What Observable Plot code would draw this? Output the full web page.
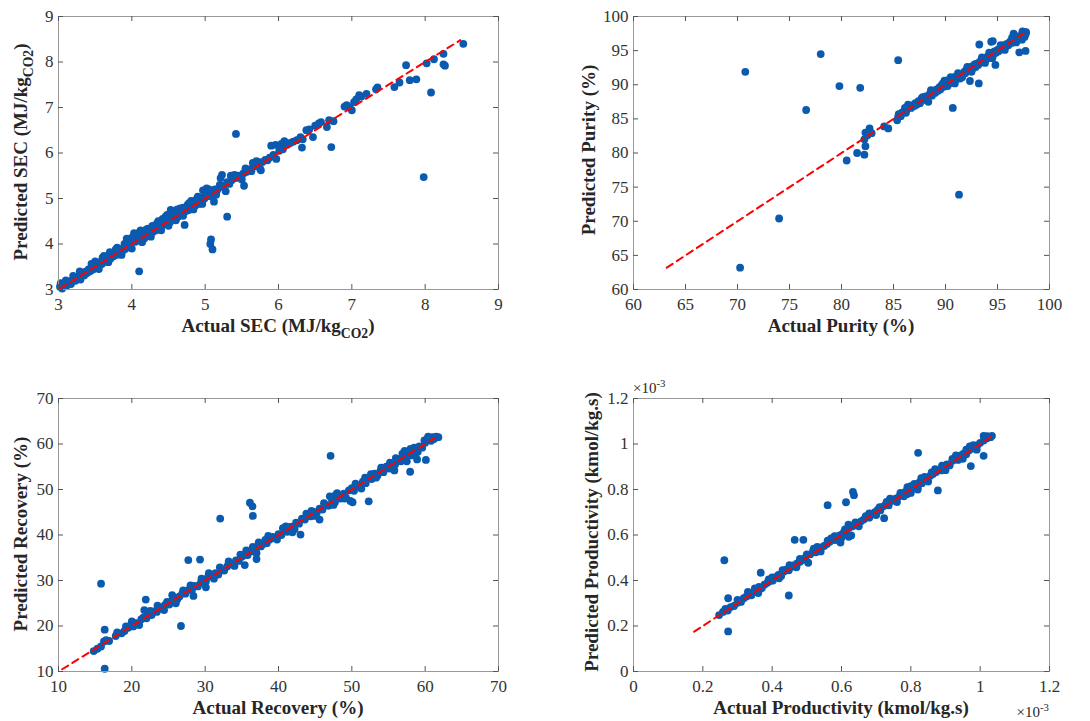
<!DOCTYPE html>
<html><head><meta charset="utf-8">
<script src="https://cdn.jsdelivr.net/npm/d3@7"></script>
<script src="https://cdn.jsdelivr.net/npm/@observablehq/plot@0.6"></script>
<style>
body{margin:0;background:#fff;}
#wrap{position:relative;width:1090px;height:721px;background:#fff;overflow:hidden;}
.panel{position:absolute;}
.panel svg, .panel svg text{font-family:"Liberation Serif","Times New Roman",serif !important;}
</style></head><body><div id="wrap"></div>
<script>
// ---- SEC (MJ/kg CO2): [actual, predicted]
const secPoints = [
[3.02,3.06],[3.03,3.14],[3.05,3.02],[3.07,3.1],[3.09,3.15],[3.11,3.08],[3.13,3.13],[3.15,3.18],[3.17,3.12],[3.19,3.2],[3.21,3.25],[3.23,3.19],[3.25,3.24],[3.27,3.29],[3.29,3.4],[3.31,3.3],[3.33,3.35],[3.35,3.31],[3.37,3.39],[3.39,3.36],[3.41,3.44],[3.43,3.4],[3.45,3.49],[3.47,3.44],[3.49,3.55],[3.51,3.5],[3.53,3.56],[3.55,3.52],[3.57,3.6],[3.59,3.56],[3.61,3.65],[3.63,3.61],[3.65,3.7],[3.67,3.64],[3.69,3.72],[3.71,3.68],[3.73,3.78],[3.75,3.73],[3.77,3.8],[3.79,3.76],[3.81,3.85],[3.83,3.81],[3.85,3.88],[3.87,3.84],[3.89,3.92],[3.91,3.89],[3.93,4.12],[3.95,3.96],[3.97,3.93],[3.99,4.02],[4.01,4.08],[4.03,4.24],[4.05,4.05],[4.07,4.14],[4.09,4.1],[4.11,4.27],[4.13,4.15],[4.15,4.2],[4.17,4.12],[4.19,4.24],[4.21,4.19],[4.23,4.27],[4.25,4.22],[4.27,4.31],[4.29,4.27],[4.31,4.34],[4.33,4.3],[4.35,4.38],[4.37,4.34],[4.39,4.44],[4.41,4.4],[4.43,4.5],[4.45,4.44],[4.47,4.56],[4.49,4.5],[4.51,4.62],[4.52,4.48],[4.53,4.75],[4.55,4.6],[4.57,4.66],[4.59,4.57],[4.61,4.64],[4.63,4.6],[4.65,4.7],[4.67,4.74],[4.69,4.66],[4.71,4.75],[4.73,4.72],[4.75,4.78],[4.77,4.74],[4.79,4.82],[4.81,4.95],[4.83,4.84],[4.85,4.88],[4.87,4.85],[4.89,4.92],[4.91,4.88],[4.93,4.96],[4.95,5.02],[4.97,5.18],[4.99,5.0],[5.02,5.22],[5.04,5.08],[5.07,5.05],[5.1,5.14],[5.13,5.2],[5.16,5.17],[5.19,5.24],[5.21,5.45],[5.23,5.52],[5.25,5.28],[5.28,5.16],[5.3,5.36],[5.33,5.32],[5.36,5.4],[5.39,5.5],[5.42,5.45],[5.45,5.5],[5.48,5.47],[5.52,5.55],[5.53,5.28],[5.56,5.58],[5.6,5.64],[5.63,5.6],[5.66,5.7],[5.7,5.72],[5.73,5.8],[5.76,5.62],[5.78,5.8],[5.82,5.85],[5.85,5.84],[5.88,5.9],[5.9,6.16],[5.93,5.96],[5.96,6.18],[5.97,5.87],[6.01,6.05],[6.04,6.2],[6.06,6.08],[6.08,6.26],[6.12,6.18],[6.16,6.22],[6.2,6.25],[6.25,6.28],[6.3,6.35],[6.33,6.3],[6.38,6.5],[6.42,6.52],[6.5,6.6],[6.55,6.65],[6.58,6.68],[6.66,6.57],[6.69,6.72],[6.75,6.7],[6.9,7.02],[6.93,7.05],[6.97,7.0],[7.0,6.94],[7.03,7.12],[7.06,7.18],[7.1,7.27],[7.13,7.24],[7.2,7.3],[7.33,7.4],[7.35,7.44],[7.58,7.45],[7.65,7.55],[7.74,7.93],[7.79,7.6],[7.88,7.62],[8.02,7.97],[8.12,8.06],[8.25,8.18],[8.25,7.95],[8.27,7.92],[8.52,8.4],
[3.1,3.2],[3.2,3.3],[3.3,3.22],[3.45,3.56],[3.55,3.45],[3.62,3.74],[3.68,3.6],[3.78,3.88],[3.86,3.76],[3.95,4.06],[4.0,3.9],[4.08,4.2],[4.14,4.04],[4.22,4.34],[4.26,4.16],[4.34,4.45],[4.4,4.3],[4.46,4.6],[4.5,4.4],[4.56,4.72],[4.6,4.52],[4.66,4.78],[4.7,4.62],[4.78,4.9],[4.84,4.76],[4.9,5.04],[4.96,4.88],[5.05,5.2],[5.15,5.08],[5.35,5.5],[5.5,5.42],[5.65,5.78],[5.75,5.65],
[3.5,3.62],[3.6,3.7],[3.7,3.82],[3.8,3.92],[3.9,4.0],[4.0,4.14],[4.05,4.22],[4.12,4.3],[4.2,4.32],[4.28,4.4],[4.36,4.5],[4.42,4.55],[4.48,4.64],[4.55,4.7],[4.62,4.76],[4.7,4.8],[4.76,4.86],[4.82,4.9],[4.88,4.98],[5.0,5.12],[5.2,5.3],[5.4,5.52],[5.55,5.66],[5.7,5.82],
[5.42,6.42],[4.1,3.4],[5.08,4.1],[5.07,4.0],[5.1,3.88],[5.3,4.6],[5.12,4.93],[4.72,4.42],[7.98,5.47],[6.72,6.13],[6.32,6.12],[6.47,6.35],[8.08,7.33]
];
const secTicks = [3,4,5,6,7,8,9];
const secLine = [3.02,8.48];

// ---- Purity (%)
const purityPoints = [
[85.35,84.8],[85.45,85.3],[85.5,85.7],[85.7,85.4],[85.8,85.9],[86.0,86.1],[86.1,86.6],[86.2,85.9],[86.35,86.5],[86.4,87.1],[86.55,86.8],[86.7,86.6],[86.85,87.0],[87.0,86.9],[87.1,87.3],[87.25,87.1],[87.4,87.6],[87.55,87.3],[87.7,88.0],[87.8,88.2],[87.95,87.8],[88.1,88.3],[88.2,87.9],[88.35,87.5],[88.45,88.6],[88.6,89.2],[88.7,88.4],[88.85,89.0],[89.0,88.8],[89.1,89.3],[89.25,89.1],[89.4,89.6],[89.5,89.3],[89.6,89.9],[89.75,90.2],[89.85,89.7],[89.95,90.1],[90.05,90.5],[90.1,90.0],[90.2,90.3],[90.3,90.7],[90.35,90.2],[90.45,90.5],[90.55,90.9],[90.6,90.3],[90.7,90.6],[90.8,91.0],[90.85,90.5],[90.95,91.2],[91.05,90.8],[91.15,91.1],[91.3,91.4],[91.4,90.9],[91.5,91.6],[91.65,91.5],[91.8,91.9],[91.9,91.7],[92.0,92.2],[92.15,92.0],[92.25,92.5],[92.4,92.2],[92.55,92.7],[92.65,92.4],[92.8,93.0],[92.9,92.6],[93.0,93.1],[93.15,92.9],[93.3,93.4],[93.45,93.3],[93.6,93.7],[93.75,93.5],[93.9,94.0],[94.0,93.8],[94.15,94.3],[94.3,94.1],[94.45,94.6],[94.6,94.4],[94.7,94.9],[94.85,94.7],[95.0,95.1],[95.1,94.9],[95.25,95.3],[95.4,95.5],[95.55,95.3],[95.65,95.8],[95.8,95.6],[95.9,96.0],[96.05,95.8],[96.2,96.3],[96.35,96.1],[96.5,96.7],[96.6,96.4],[96.75,96.9],[96.9,96.6],[97.0,97.1],[97.1,96.8],[97.25,97.2],[97.35,96.6],[97.45,97.5],[97.55,97.3],[97.65,97.7],[97.7,97.4],
[89.9,90.6],[90.2,89.8],[90.5,91.1],[90.9,90.2],[91.2,91.7],[91.6,91.1],[92.1,92.6],[92.5,91.9],[93.5,94.0],[93.8,93.2],[94.2,94.7],[94.5,93.9],[95.3,95.8],[95.7,95.1],[96.4,96.9],[96.8,96.2],[97.4,97.8],[97.6,97.0],
[70.75,91.9],[78.0,94.5],[79.8,89.8],[81.8,89.55],[76.6,86.3],[85.45,93.6],[74.0,70.4],[70.25,63.2],[91.3,73.9],[80.5,78.9],[81.5,80.0],[82.2,79.75],[82.3,81.0],[82.2,82.0],[82.3,83.0],[82.7,83.6],[82.9,82.9],[82.5,82.6],[84.1,83.9],[84.5,83.6],[90.7,86.6],[92.35,90.55],[93.2,90.2],[93.25,95.9],[94.4,96.3],[94.55,96.4],[94.8,92.9],[97.1,94.75],[97.7,94.95],[96.55,97.5],[97.75,97.7]
];
const purityTicks = [60,65,70,75,80,85,90,95,100];
const purityLine = [63.2,97.8];

// ---- Recovery (%)
const recoveryPoints = [
[14.8,14.5],[15.3,15.0],[15.8,15.5],[16.2,16.6],[16.5,16.9],[16.9,16.7],[17.8,17.8],[18.6,18.4],[19.0,18.9],[19.5,19.6],[19.9,20.3],[20.2,19.9],[20.5,20.6],[20.9,20.6],[21.3,21.5],[21.6,21.9],[22.0,21.7],[22.3,22.5],[22.7,22.4],[23.0,23.2],[23.4,23.1],[23.8,24.1],[24.1,23.8],[24.5,24.6],[24.8,25.3],[25.1,24.7],[25.4,25.4],[25.7,26.2],[25.9,25.2],[26.2,25.9],[26.5,26.5],[26.9,27.2],[27.3,27.1],[27.7,27.9],[28.2,27.9],[28.6,28.8],[29.0,28.7],[29.4,29.5],[29.8,30.1],[30.1,29.8],[30.4,30.8],[30.7,31.3],[31.0,30.8],[31.4,31.6],[31.8,31.3],[32.2,32.4],[32.6,32.2],[33.0,33.1],[33.4,33.7],[33.8,33.5],[34.2,34.4],[34.6,34.3],[35.0,35.2],[35.4,35.6],[35.8,35.6],[36.2,36.5],[36.6,36.4],[37.0,37.2],[37.3,38.4],[37.6,37.5],[38.0,38.1],[38.4,38.2],[38.8,39.0],[39.2,39.6],[39.6,39.3],[40.0,40.2],[40.4,40.0],[40.8,41.0],[41.2,40.7],[41.6,41.8],[41.9,40.6],[42.0,41.9],[42.4,42.7],[42.8,42.5],[43.2,43.6],[43.6,43.4],[44.0,44.3],[44.4,44.1],[44.8,45.1],[45.2,44.8],[45.6,45.8],[46.0,45.6],[46.4,46.6],[46.8,46.4],[47.0,48.5],[47.3,47.5],[47.7,47.2],[48.1,48.3],[48.5,48.0],[48.9,49.1],[49.2,48.2],[49.6,49.8],[50.0,50.3],[50.3,49.7],[50.7,50.9],[51.1,50.6],[51.5,51.7],[51.9,51.4],[52.3,52.5],[52.7,52.3],[53.1,53.5],[53.5,53.1],[53.9,54.1],[54.3,53.8],[54.7,55.0],[55.1,54.6],[55.5,55.6],[55.8,54.2],[55.9,55.5],[56.3,56.6],[56.7,56.2],[57.0,57.5],[57.4,56.9],[57.7,58.0],[58.1,57.5],[58.4,58.7],[58.8,58.2],[59.2,59.5],[59.6,59.2],[60.0,60.3],[60.4,61.6],[60.8,60.7],[61.2,61.1],[61.5,61.6],[61.8,61.5],
[20.0,21.0],[21.0,20.2],[23.5,24.5],[24.4,23.5],[25.5,26.8],[26.0,25.0],[30.5,31.6],[31.2,30.4],[33.2,34.2],[34.0,33.2],[36.5,37.4],[37.0,36.0],[38.6,39.8],[39.8,39.0],[40.6,41.5],[42.2,41.3],[44.5,45.3],[45.0,44.2],[46.2,47.0],[47.5,46.6],[48.0,49.2],[49.0,48.0],[50.5,51.3],[51.3,50.2],[52.6,53.4],[53.3,52.6],[55.2,55.9],[55.6,55.0],[56.9,57.9],[57.5,56.2],[58.5,59.2],[59.0,58.3],[59.9,60.8],[57.2,58.5],[61.0,61.5],
[18.0,18.6],[19.2,19.9],[22.5,23.3],[27.0,27.8],[28.0,28.9],[29.5,30.4],[32.0,32.9],[34.8,35.7],[35.6,36.6],[38.2,38.9],[41.0,41.9],[43.8,44.7],[47.8,48.8],[51.8,52.6],[54.0,54.8],[56.0,56.9],[58.0,58.9],[60.2,60.9],
[15.8,29.3],[16.3,19.2],[16.3,10.6],[21.9,25.8],[21.7,23.5],[26.7,20.0],[27.7,34.5],[29.3,34.6],[32.05,43.6],[36.1,47.1],[36.45,46.3],[36.5,44.2],[47.1,57.4],[43.0,40.1],[45.6,43.4],[52.3,47.4],[57.95,53.9],[60.1,56.5],[58.9,56.6],[49.8,47.5],[50.1,47.2],[35.4,33.4],[37.0,34.7],[30.1,28.5],[28.4,26.6]
];
const recoveryTicks = [10,20,30,40,50,60,70];
const recoveryLine = [10.5,61.5];

// ---- Productivity (x10^-3 kmol/kg.s)
const prodPoints = [
[0.247,0.248],[0.258,0.262],[0.265,0.275],[0.272,0.268],[0.28,0.283],[0.29,0.288],[0.3,0.302],[0.31,0.306],[0.318,0.322],[0.326,0.33],[0.333,0.342],[0.34,0.335],[0.348,0.352],[0.356,0.36],[0.362,0.372],[0.37,0.366],[0.378,0.382],[0.386,0.39],[0.394,0.398],[0.402,0.4],[0.41,0.415],[0.418,0.425],[0.426,0.42],[0.434,0.44],[0.44,0.448],[0.448,0.445],[0.456,0.46],[0.464,0.468],[0.472,0.475],[0.48,0.482],[0.488,0.49],[0.496,0.5],[0.504,0.478],[0.51,0.515],[0.518,0.53],[0.526,0.524],[0.534,0.536],[0.542,0.546],[0.55,0.552],[0.558,0.56],[0.566,0.57],[0.574,0.58],[0.582,0.578],[0.59,0.595],[0.598,0.6],[0.606,0.61],[0.614,0.608],[0.622,0.632],[0.628,0.598],[0.632,0.638],[0.64,0.645],[0.648,0.652],[0.656,0.66],[0.664,0.668],[0.672,0.68],[0.68,0.676],[0.688,0.69],[0.696,0.7],[0.704,0.71],[0.712,0.708],[0.72,0.725],[0.728,0.735],[0.736,0.73],[0.744,0.75],[0.752,0.758],[0.76,0.762],[0.768,0.772],[0.776,0.78],[0.784,0.79],[0.792,0.8],[0.8,0.795],[0.808,0.812],[0.816,0.82],[0.824,0.83],[0.832,0.828],[0.84,0.85],[0.848,0.846],[0.856,0.86],[0.864,0.868],[0.872,0.876],[0.88,0.885],[0.888,0.884],[0.896,0.9],[0.904,0.91],[0.912,0.906],[0.92,0.926],[0.928,0.934],[0.936,0.93],[0.944,0.95],[0.952,0.958],[0.96,0.955],[0.968,0.972],[0.976,0.98],[0.984,0.99],[0.992,0.995],[1.0,1.005],[1.01,1.015],[1.02,1.025],[1.03,1.03],
[0.33,0.35],[0.36,0.345],[0.39,0.405],[0.42,0.41],[0.45,0.468],[0.47,0.458],[0.52,0.54],[0.54,0.528],[0.57,0.585],[0.6,0.588],[0.62,0.645],[0.65,0.638],[0.68,0.695],[0.7,0.688],[0.74,0.76],[0.76,0.745],[0.79,0.81],[0.8,0.785],[0.83,0.85],[0.85,0.835],[0.87,0.89],[0.9,0.885],[0.93,0.95],[0.95,0.935],[0.97,0.99],[0.99,0.975],[1.02,1.035],[0.78,0.77],[0.82,0.8],
[0.3,0.315],[0.35,0.365],[0.4,0.414],[0.43,0.445],[0.48,0.495],[0.5,0.515],[0.53,0.548],[0.56,0.575],[0.58,0.595],[0.61,0.625],[0.64,0.655],[0.67,0.683],[0.71,0.722],[0.73,0.745],[0.77,0.785],[0.81,0.825],[0.84,0.855],[0.86,0.875],[0.89,0.905],[0.92,0.935],[0.96,0.975],[0.98,0.995],[0.82,0.81],[0.8,0.815],[0.79,0.78],
[0.262,0.489],[0.273,0.322],[0.273,0.176],[0.367,0.434],[0.448,0.334],[0.465,0.579],[0.49,0.579],[0.56,0.731],[0.613,0.744],[0.633,0.79],[0.636,0.775],[0.821,0.961],[0.878,0.796],[0.973,0.903],[1.01,0.948],[1.034,1.036],[1.01,1.036],[0.723,0.674],[0.597,0.567],[0.621,0.592]
];
const prodTicks = [0,0.2,0.4,0.6,0.8,1,1.2];
const prodLine = [0.175,1.03];

const FONT = '"Liberation Serif", "Times New Roman", serif';
const DOT = "#0a5bb0";
const TXT = "#262626";

function addText(svg, {x, y, rotate = false, parts, size = 19, weight = "bold", anchor = "middle"}) {
  const t = d3.select(svg).append("text")
    .attr("transform", `translate(${x},${y})${rotate ? " rotate(-90)" : ""}`)
    .attr("text-anchor", anchor).attr("font-size", size).attr("font-weight", weight)
    .attr("font-family", FONT).attr("fill", TXT);
  let shift = 0;
  parts.forEach(([s, kind]) => {
    const target = kind === "sub" ? size * 0.33 : kind === "sup" ? -size * 0.4 : 0;
    t.append("tspan").attr("dy", target - shift)
      .attr("font-size", kind ? size * 0.72 : size).text(s);
    shift = target;
  });
}

function panel(cfg) {
  const {points, line, ticks, left, top, width, height, ml, mr, mt, mb} = cfg;
  const innerW = width - ml - mr, innerH = height - mt - mb;
  const dom = [ticks[0], ticks[ticks.length - 1]];
  const tk = {stroke: "#555", strokeWidth: 1};
  const ax = {tickSize: 0, label: null, fontSize: 17, fill: "#333", fontFamily: FONT, tickFormat: d => String(d)};
  const svg = Plot.plot({
    width, height, marginLeft: ml, marginRight: mr, marginTop: mt, marginBottom: mb,
    style: {fontFamily: FONT, fontSize: "17px", color: TXT, background: "transparent", overflow: "visible"},
    x: {domain: dom}, y: {domain: dom},
    marks: [
      Plot.dot(points, {x: d => d[0], y: d => d[1], r: 3.9, fill: DOT, stroke: null}),
      Plot.line(line, {x: d => d, y: d => d, stroke: "#ff0000", strokeWidth: 2, strokeDasharray: "7,5"}),
      Plot.frame({stroke: "#999", strokeWidth: 1}),
      Plot.tickX(ticks, {x: d => d, insetTop: innerH - 5, ...tk}),
      Plot.tickX(ticks, {x: d => d, insetBottom: innerH - 5, ...tk}),
      Plot.tickY(ticks, {y: d => d, insetRight: innerW - 5, ...tk}),
      Plot.tickY(ticks, {y: d => d, insetLeft: innerW - 5, ...tk}),
      Plot.axisX(ticks, {anchor: "bottom", tickPadding: 8, ...ax}),
      Plot.axisY(ticks, {anchor: "left", tickPadding: 5, ...ax})
    ]
  });
  const div = document.createElement("div");
  div.className = "panel";
  div.style.left = left + "px"; div.style.top = top + "px";
  div.appendChild(svg);
  document.getElementById("wrap").appendChild(div);
  return svg;
}

// Panel 1: SEC
const s1 = panel({points: secPoints, line: secLine, ticks: secTicks, left: 0, top: 0, width: 540, height: 355, ml: 58, mr: 42, mt: 16, mb: 66});
addText(s1, {x: 278, y: 332, parts: [["Actual SEC (MJ/kg"], ["CO2", "sub"], [")"]]});
addText(s1, {x: 27, y: 152, rotate: true, parts: [["Predicted SEC (MJ/kg"], ["CO2", "sub"], [")"]]});

// Panel 2: Purity
const s2 = panel({points: purityPoints, line: purityLine, ticks: purityTicks, left: 540, top: 0, width: 550, height: 355, ml: 93, mr: 41, mt: 16, mb: 66});
addText(s2, {x: 301, y: 332, parts: [["Actual Purity (%)"]]});
addText(s2, {x: 55, y: 150, rotate: true, parts: [["Predicted Purity (%)"]]});

// Panel 3: Recovery
const s3 = panel({points: recoveryPoints, line: recoveryLine, ticks: recoveryTicks, left: 0, top: 360, width: 540, height: 361, ml: 58, mr: 42, mt: 38, mb: 50});
addText(s3, {x: 278, y: 354, parts: [["Actual Recovery (%)"]]});
addText(s3, {x: 27, y: 174, rotate: true, parts: [["Predicted Recovery (%)"]]});

// Panel 4: Productivity
const s4 = panel({points: prodPoints, line: prodLine, ticks: prodTicks, left: 540, top: 360, width: 550, height: 361, ml: 93, mr: 41, mt: 38, mb: 50});
addText(s4, {x: 301, y: 354, parts: [["Actual Productivity (kmol/kg.s)"]]});
addText(s4, {x: 58, y: 172, rotate: true, parts: [["Predicted Productivity (kmol/kg.s)"]]});
addText(s4, {x: 93, y: 33, weight: "normal", size: 15, anchor: "start", parts: [["×10"], ["-3", "sup"]]});
addText(s4, {x: 509, y: 357, weight: "normal", size: 15, anchor: "end", parts: [["×10"], ["-3", "sup"]]});
</script>
</body></html>
